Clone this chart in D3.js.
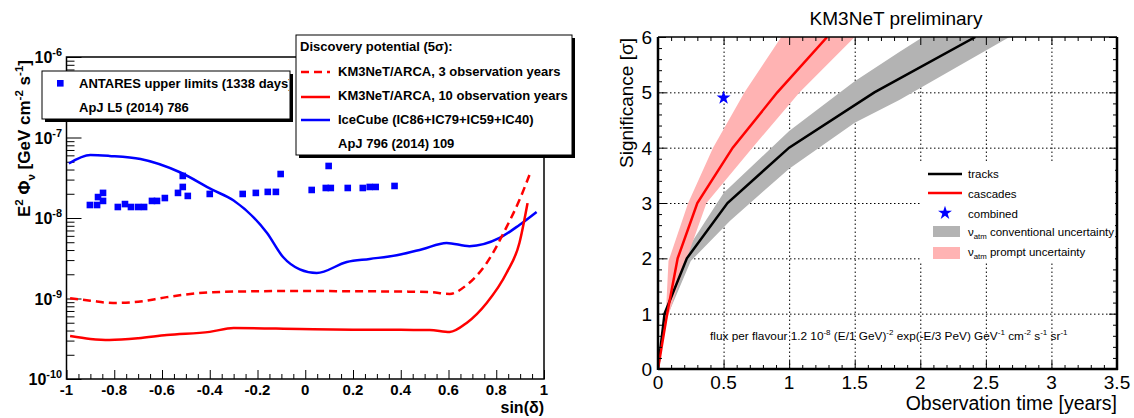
<!DOCTYPE html>
<html>
<head>
<meta charset="utf-8">
<script src="https://cdn.jsdelivr.net/npm/d3@7"></script>
<style>
  body { margin: 0; background: #fff; }
  svg { display: block; font-family: "Liberation Sans", Arial, Helvetica, sans-serif; }
</style>
</head>
<body>
<script>
// ---- left panel: sensitivity vs sin(declination) ----
var iceSin  = [-0.99, -0.9, -0.82, -0.69, -0.525, -0.39, -0.3, -0.16, -0.094, -0.023, 0.048, 0.174, 0.27, 0.383, 0.49, 0.592, 0.688, 0.814, 0.897, 0.969];
var iceFlux = [4.75e-8, 6.05e-8, 5.9e-8, 5.4e-8, 3.7e-8, 2.25e-8, 1.65e-8, 6.5e-9, 3.3e-9, 2.3e-9, 2.07e-9, 2.84e-9, 3.1e-9, 3.45e-9, 4.1e-9, 4.9e-9, 4.47e-9, 5.65e-9, 8.2e-9, 1.19e-8];

var arca3Sin  = [-0.985, -0.9, -0.805, -0.7, -0.58, -0.387, -0.2, -0.023, 0.2, 0.4, 0.521, 0.605, 0.676, 0.76, 0.843, 0.897, 0.939];
var arca3Flux = [1.01e-9, 9.4e-10, 8.8e-10, 9.1e-10, 1.04e-9, 1.2e-9, 1.23e-9, 1.24e-9, 1.23e-9, 1.22e-9, 1.2e-9, 1.14e-9, 1.47e-9, 2.76e-9, 7.7e-9, 1.67e-8, 3.42e-8];

var arca10Sin  = [-0.985, -0.9, -0.82, -0.7, -0.58, -0.4, -0.3, -0.023, 0.2, 0.4, 0.521, 0.605, 0.676, 0.76, 0.843, 0.897, 0.931];
var arca10Flux = [3.42e-10, 3.15e-10, 3.05e-10, 3.2e-10, 3.52e-10, 3.85e-10, 4.3e-10, 4.18e-10, 4.1e-10, 4.08e-10, 4.06e-10, 3.84e-10, 4.97e-10, 8.8e-10, 2.07e-9, 4.9e-9, 1.53e-8];

var antSin  = [-0.902, -0.872, -0.868, -0.847, -0.847, -0.785, -0.755, -0.73, -0.70, -0.675, -0.642, -0.621, -0.588, -0.533, -0.513, -0.492, -0.513, -0.40, -0.262, -0.207, -0.157, -0.123, -0.103, 0.027, 0.086, 0.107, 0.098, 0.178, 0.241, 0.27, 0.295, 0.374];
var antFlux = [1.45e-8, 1.45e-8, 1.82e-8, 2.05e-8, 1.63e-8, 1.37e-8, 1.49e-8, 1.37e-8, 1.37e-8, 1.37e-8, 1.63e-8, 1.63e-8, 1.77e-8, 2.05e-8, 2.43e-8, 1.88e-8, 3.33e-8, 1.99e-8, 1.99e-8, 2.05e-8, 2.11e-8, 2.11e-8, 3.52e-8, 2.23e-8, 2.36e-8, 2.36e-8, 4.43e-8, 2.36e-8, 2.36e-8, 2.43e-8, 2.43e-8, 2.5e-8];

var xTickLabelsL = ["-1", "-0.8", "-0.6", "-0.4", "-0.2", "0", "0.2", "0.4", "0.6", "0.8", "1"];
var yDecadesL = [-10, -9, -8, -7, -6];

// ---- right panel: significance vs observation time ----
var sigma = [0, 1, 2, 3, 4, 5, 6];
var trackT = [0, 0.05, 0.22, 0.53, 1.0, 1.65, 2.42];
var cascT  = [0, 0.07, 0.15, 0.30, 0.57, 0.91, 1.29];

// band edges as [time, sigma]
var convUpper = [[0, 0], [0.05, 1.0], [0.2, 2.08], [0.5, 3.18], [1.0, 4.3], [1.5, 5.2], [1.84, 5.73], [2.02, 6.0]];
var convLower = [[0, 0], [0.07, 0.95], [0.25, 1.95], [0.55, 2.68], [1.0, 3.62], [1.5, 4.45], [1.84, 4.86], [2.68, 6.0]];
var promptUpper = [[0, 0], [0.06, 1.0], [0.08, 1.95], [0.23, 3.0], [0.42, 4.0], [0.66, 5.0], [0.94, 6.0]];
var promptLower = [[0, 0], [0.07, 0.9], [0.22, 2.0], [0.37, 3.0], [0.72, 4.0], [1.08, 5.0], [1.50, 6.0]];

var combinedT = [0.5];
var combinedS = [4.9];

var xTickLabelsR = ["0", "0.5", "1", "1.5", "2", "2.5", "3", "3.5"];
var yTickLabelsR = ["0", "1", "2", "3", "4", "5", "6"];

var W = 1134, H = 418;
var svg = d3.select("body").append("svg").attr("width", W).attr("height", H);

// text with super/subscripts
function rich(sel, parts, fs) {
  var shift = 0;
  parts.forEach(function(p) {
    var target = p[1] === "sup" ? -0.42 * fs : (p[1] === "sub" ? 0.28 * fs : 0);
    sel.append("tspan")
      .attr("dy", target - shift)
      .attr("font-size", p[1] === "n" ? fs : fs * 0.68)
      .text(p[0]);
    shift = target;
  });
}

function ticks(g) { g.select(".domain").remove(); g.selectAll("line").attr("stroke", "#000"); }

// ================= LEFT PANEL =================
var xL = d3.scaleLinear().domain([-1, 1]).range([66.5, 544]);
var yL = d3.scaleLog().domain([1e-10, 1e-6]).range([379, 57]);

var isDecade = function(v) { var l = Math.log10(v); return Math.abs(l - Math.round(l)) < 1e-6; };
var yMajL = yL.ticks().filter(isDecade);
var yMinL = yL.ticks().filter(function(v) { return !isDecade(v); });

svg.append("g").attr("transform", "translate(66.5,0)")
  .call(d3.axisRight(yL).tickValues(yMinL).tickSize(8).tickFormat("")).call(ticks);
svg.append("g").attr("transform", "translate(66.5,0)")
  .call(d3.axisRight(yL).tickValues(yMajL).tickSize(15).tickFormat("")).call(ticks);

var xAllL = d3.range(0, 41).map(function(i) { return -1 + i * 0.05; });
svg.append("g").attr("transform", "translate(0,379)")
  .call(d3.axisTop(xL).tickValues(xAllL.filter(function(d, i) { return i % 4 !== 0; })).tickSize(5).tickFormat("")).call(ticks);
svg.append("g").attr("transform", "translate(0,379)")
  .call(d3.axisTop(xL).tickValues(xAllL.filter(function(d, i) { return i % 4 === 0; })).tickSize(9).tickFormat("")).call(ticks);

// frame
svg.append("rect").attr("x", 66.5).attr("y", 57).attr("width", 544 - 66.5).attr("height", 379 - 57)
  .attr("fill", "none").attr("stroke", "#000").attr("stroke-width", 1.5);

svg.selectAll(".xlabL").data(xTickLabelsL).enter().append("text")
  .attr("x", function(d) { return xL(+d); }).attr("y", 395)
  .attr("text-anchor", "middle").attr("font-weight", "bold").attr("font-size", 15)
  .text(function(d) { return d; });

yDecadesL.forEach(function(d) {
  var t = svg.append("text").attr("x", 62).attr("y", yL(Math.pow(10, d)) + 6)
    .attr("text-anchor", "end").attr("font-weight", "bold");
  rich(t, [["10", "n"], [String(d), "sup"]], 16);
});

svg.append("text").attr("x", 544).attr("y", 413).attr("text-anchor", "end")
  .attr("font-weight", "bold").attr("font-size", 16).text("sin(\u03b4)");

var ylab = svg.append("text").attr("transform", "translate(30,60) rotate(-90)")
  .attr("text-anchor", "end").attr("font-weight", "bold");
rich(ylab, [["E", "n"], ["2", "sup"], [" \u03a6", "n"], ["\u03bd", "sub"], [" [GeV cm", "n"], ["-2", "sup"], [" s", "n"], ["-1", "sup"], ["]", "n"]], 17);

var lineL = function(xs, ys) {
  return d3.line().x(function(d, i) { return xL(xs[i]); }).y(function(d, i) { return yL(ys[i]); })
    .curve(d3.curveMonotoneX)(xs);
};

svg.append("path").attr("d", lineL(iceSin, iceFlux)).attr("fill", "none").attr("stroke", "#0000ff").attr("stroke-width", 2.5);
svg.append("path").attr("d", lineL(arca3Sin, arca3Flux)).attr("fill", "none").attr("stroke", "#ff0000").attr("stroke-width", 2.5).attr("stroke-dasharray", "8,5");
svg.append("path").attr("d", lineL(arca10Sin, arca10Flux)).attr("fill", "none").attr("stroke", "#ff0000").attr("stroke-width", 2.5);

svg.selectAll(".ant").data(antSin).enter().append("rect")
  .attr("x", function(d) { return xL(d) - 3.3; })
  .attr("y", function(d, i) { return yL(antFlux[i]) - 3.3; })
  .attr("width", 6.6).attr("height", 6.6).attr("fill", "#0000ff");

// legend boxes (ROOT style, with shadow)
function legendBox(x, y, w, h) {
  svg.append("rect").attr("x", x + 3).attr("y", y + 3).attr("width", w).attr("height", h).attr("fill", "#000");
  svg.append("rect").attr("x", x).attr("y", y).attr("width", w).attr("height", h)
    .attr("fill", "#fff").attr("stroke", "#000").attr("stroke-width", 1);
}

legendBox(42, 71, 248, 48);
svg.append("clipPath").attr("id", "clipAnt").append("rect").attr("x", 42).attr("y", 71).attr("width", 247).attr("height", 48);
var gAnt = svg.append("g").attr("clip-path", "url(#clipAnt)").attr("font-weight", "bold").attr("font-size", 13);
gAnt.append("rect").attr("x", 57).attr("y", 80).attr("width", 6.6).attr("height", 6.6).attr("fill", "#0000ff");
gAnt.append("text").attr("x", 79).attr("y", 88).text("ANTARES upper limits (1338 days)");
gAnt.append("text").attr("x", 79).attr("y", 112).text("ApJ L5 (2014) 786");

legendBox(296, 35, 276, 120);
var gDp = svg.append("g").attr("font-weight", "bold").attr("font-size", 13);
gDp.append("text").attr("x", 300).attr("y", 51).text("Discovery potential (5\u03c3):");
gDp.append("line").attr("x1", 301).attr("x2", 330).attr("y1", 72).attr("y2", 72).attr("stroke", "#ff0000").attr("stroke-width", 2.5).attr("stroke-dasharray", "8,5");
gDp.append("text").attr("x", 338).attr("y", 76).text("KM3NeT/ARCA, 3 observation years");
gDp.append("line").attr("x1", 301).attr("x2", 330).attr("y1", 97).attr("y2", 97).attr("stroke", "#ff0000").attr("stroke-width", 2.5);
gDp.append("text").attr("x", 338).attr("y", 100).text("KM3NeT/ARCA, 10 observation years");
gDp.append("line").attr("x1", 301).attr("x2", 330).attr("y1", 120).attr("y2", 120).attr("stroke", "#0000ff").attr("stroke-width", 2.5);
gDp.append("text").attr("x", 338).attr("y", 124).text("IceCube (IC86+IC79+IC59+IC40)");
gDp.append("text").attr("x", 338).attr("y", 148).text("ApJ 796 (2014) 109");

// ================= RIGHT PANEL =================
var xR = d3.scaleLinear().domain([0, 3.5]).range([658, 1117]);
var yR = d3.scaleLinear().domain([0, 6]).range([369, 37]);

svg.append("clipPath").attr("id", "clipR").append("rect")
  .attr("x", 658).attr("y", 37).attr("width", 1117 - 658).attr("height", 369 - 37);

// grid
svg.append("g").attr("transform", "translate(0,369)")
  .call(d3.axisBottom(xR).tickValues([0.5, 1, 1.5, 2, 2.5, 3]).tickSize(-(369 - 37)).tickFormat(""))
  .call(ticks).selectAll("line").attr("stroke-dasharray", "1.5,2.5").attr("stroke-width", 1);
svg.append("g").attr("transform", "translate(658,0)")
  .call(d3.axisLeft(yR).tickValues([1, 2, 3, 4, 5]).tickSize(-(1117 - 658)).tickFormat(""))
  .call(ticks).selectAll("line").attr("stroke-dasharray", "1.5,2.5").attr("stroke-width", 1);

var gR = svg.append("g").attr("clip-path", "url(#clipR)");
var bandLine = d3.line().x(function(d) { return xR(d[0]); }).y(function(d) { return yR(d[1]); });
gR.append("path").attr("d", bandLine(convUpper.concat(convLower.slice().reverse())) + "Z").attr("fill", "#b3b3b3");
gR.append("path").attr("d", bandLine(promptUpper.concat(promptLower.slice().reverse())) + "Z").attr("fill", "#ffb3b3");

var lineR = function(ts) {
  return d3.line().x(function(d) { return xR(d); }).y(function(d, i) { return yR(sigma[i]); })(ts);
};
gR.append("path").attr("d", lineR(trackT)).attr("fill", "none").attr("stroke", "#000").attr("stroke-width", 2.5);
gR.append("path").attr("d", lineR(cascT)).attr("fill", "none").attr("stroke", "#ff0000").attr("stroke-width", 2.5);

gR.selectAll(".comb").data(combinedT).enter().append("path")
  .attr("d", d3.symbol(d3.symbolStar).size(60))
  .attr("transform", function(d, i) { return "translate(" + xR(d) + "," + yR(combinedS[i]) + ")"; })
  .attr("fill", "#0000ff");

// ticks (inward on all four sides)
var xMinR = d3.range(0, 36).map(function(i) { return i * 0.1; }).filter(function(d, i) { return i % 5 !== 0; });
var xMajR = xTickLabelsR.map(Number);
var yMinR = d3.range(0, 31).map(function(i) { return i * 0.2; }).filter(function(d, i) { return i % 5 !== 0; });
var yMajR = yTickLabelsR.map(Number);

[[d3.axisTop, 369], [d3.axisBottom, 37]].forEach(function(a) {
  svg.append("g").attr("transform", "translate(0," + a[1] + ")").call(a[0](xR).tickValues(xMinR).tickSize(4).tickFormat("")).call(ticks);
  svg.append("g").attr("transform", "translate(0," + a[1] + ")").call(a[0](xR).tickValues(xMajR).tickSize(8).tickFormat("")).call(ticks);
});
[[d3.axisRight, 658], [d3.axisLeft, 1117]].forEach(function(a) {
  svg.append("g").attr("transform", "translate(" + a[1] + ",0)").call(a[0](yR).tickValues(yMinR).tickSize(4).tickFormat("")).call(ticks);
  svg.append("g").attr("transform", "translate(" + a[1] + ",0)").call(a[0](yR).tickValues(yMajR).tickSize(8).tickFormat("")).call(ticks);
});

// frame
svg.append("line").attr("x1", 658).attr("x2", 1117).attr("y1", 37).attr("y2", 37).attr("stroke", "#000").attr("stroke-width", 1.5);
svg.append("line").attr("x1", 658).attr("x2", 1118).attr("y1", 369).attr("y2", 369).attr("stroke", "#000").attr("stroke-width", 2.5);
svg.append("line").attr("x1", 658).attr("x2", 658).attr("y1", 37).attr("y2", 370).attr("stroke", "#000").attr("stroke-width", 2.5);
svg.append("line").attr("x1", 1117).attr("x2", 1117).attr("y1", 37).attr("y2", 370).attr("stroke", "#000").attr("stroke-width", 2.5);

svg.selectAll(".xlabR").data(xTickLabelsR).enter().append("text")
  .attr("x", function(d) { return xR(+d); }).attr("y", 389)
  .attr("text-anchor", "middle").attr("font-size", 19).text(function(d) { return d; });
svg.selectAll(".ylabR").data(yTickLabelsR).enter().append("text")
  .attr("x", 652).attr("y", function(d) { return yR(+d) + 7; })
  .attr("text-anchor", "end").attr("font-size", 19).text(function(d) { return d; });

svg.append("text").attr("x", 896).attr("y", 25).attr("text-anchor", "middle").attr("font-size", 19).text("KM3NeT preliminary");
svg.append("text").attr("x", 1117).attr("y", 410).attr("text-anchor", "end").attr("font-size", 19.5).text("Observation time [years]");
svg.append("text").attr("transform", "translate(633,38) rotate(-90)").attr("text-anchor", "end")
  .attr("font-size", 19).text("Significance [\u03c3]");

// legend
var gLeg = svg.append("g").attr("font-size", 11.5);
gLeg.append("rect").attr("x", 920).attr("y", 163).attr("width", 195).attr("height", 99).attr("fill", "#fff");
gLeg.append("line").attr("x1", 928).attr("x2", 962).attr("y1", 174).attr("y2", 174).attr("stroke", "#000").attr("stroke-width", 2.5);
gLeg.append("text").attr("x", 968).attr("y", 178).text("tracks");
gLeg.append("line").attr("x1", 928).attr("x2", 962).attr("y1", 193).attr("y2", 193).attr("stroke", "#ff0000").attr("stroke-width", 2.5);
gLeg.append("text").attr("x", 968).attr("y", 198).text("cascades");
gLeg.append("path").attr("d", d3.symbol(d3.symbolStar).size(60)).attr("transform", "translate(945,213)").attr("fill", "#0000ff");
gLeg.append("text").attr("x", 968).attr("y", 218).text("combined");
gLeg.append("rect").attr("x", 933).attr("y", 226).attr("width", 27).attr("height", 11).attr("fill", "#b3b3b3");
rich(gLeg.append("text").attr("x", 968).attr("y", 236), [["\u03bd", "n"], ["atm", "sub"], [" conventional uncertainty", "n"]], 11.5);
gLeg.append("rect").attr("x", 933).attr("y", 247).attr("width", 27).attr("height", 12).attr("fill", "#ffb3b3");
rich(gLeg.append("text").attr("x", 968).attr("y", 256), [["\u03bd", "n"], ["atm", "sub"], [" prompt uncertainty", "n"]], 11.5);

// flux annotation
rich(svg.append("text").attr("x", 710).attr("y", 340),
  [["flux per flavour 1.2 10", "n"], ["-8", "sup"], [" (E/1 GeV)", "n"], ["-2", "sup"], [" exp(-E/3 PeV) GeV", "n"], ["-1", "sup"],
   [" cm", "n"], ["-2", "sup"], [" s", "n"], ["-1", "sup"], [" sr", "n"], ["-1", "sup"]], 11.8);
</script>
</body>
</html>
